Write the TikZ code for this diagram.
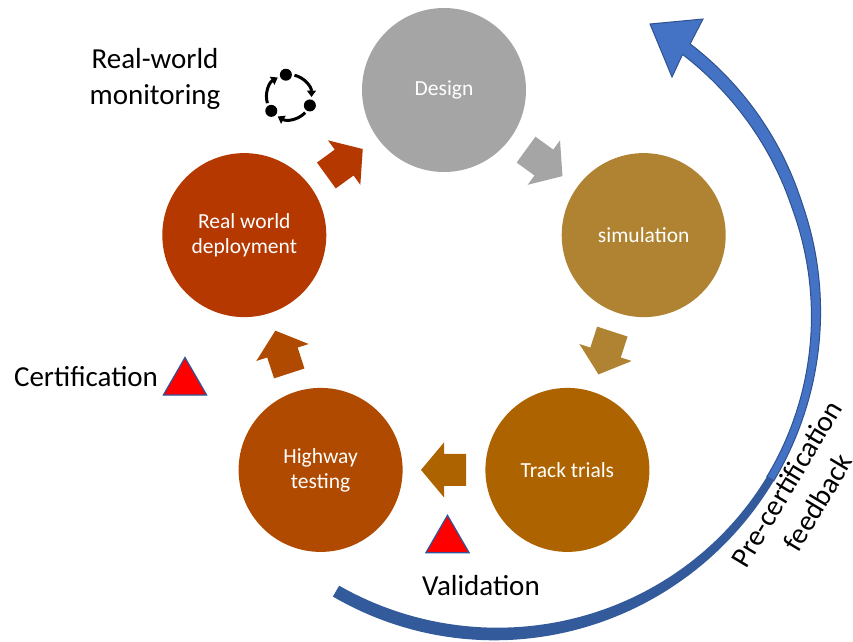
\documentclass[tikz,border=0pt]{standalone}
\usepackage{fontspec}
\setmainfont{Carlito}
\usetikzlibrary{shapes.geometric,arrows.meta,calc}
\definecolor{cDesign}{HTML}{A5A5A5}
\definecolor{cSim}{HTML}{AF8331}
\definecolor{cTrack}{HTML}{AD6400}
\definecolor{cHwy}{HTML}{B04A00}
\definecolor{cDep}{HTML}{B43800}
\definecolor{bigLight}{HTML}{4472C4}
\definecolor{bigEdge}{HTML}{2F528F}
\definecolor{bigDark}{HTML}{335A9A}
\definecolor{triEdge}{HTML}{2F5597}
\tikzset{blockarrow/.pic={\fill[pic actions] (-22,-16) -- (0,-16) -- (0,-27.5) -- (23,0) -- (0,27.5) -- (0,16) -- (-22,16) -- cycle;}}
\begin{document}
\begin{tikzpicture}[x=1pt,y=1pt,
  declare function={bw(\t)=10.5-2.5*cos((\t+25)*2.264); br(\t)=320+max(0,\t-20)*0.18;},
  stage/.style={circle, minimum size=164pt, inner sep=0pt, text=white, align=center, font=\fontsize{21.5}{25}\selectfont},
  txtlabel/.style={align=center, font=\fontsize{29}{36}\selectfont, text=black},
  warn/.style={regular polygon, regular polygon sides=3, minimum size=50pt, inner sep=0pt, fill=red, draw=triEdge, line width=1.2pt},
  icondot/.style={circle, fill=black, minimum size=12pt, inner sep=0pt},
  cyc/.style={line width=3pt, -{Triangle[length=6.5pt,width=9pt]}}]
\useasboundingbox (0,0) rectangle (853,-641);
% stages
\node[stage, fill=cDesign] (design) at (444,-90) {Design};
\node[stage, fill=cSim] (sim) at (643.7,-235.1) {simulation};
\node[stage, fill=cTrack] (track) at (567.4,-469.9) {Track trials};
\node[stage, fill=cHwy] (hwy) at (320.6,-469.9) {Highway\\testing};
\node[stage, fill=cDep] (dep) at (244.3,-235.1) {Real world\\deployment};
% block arrows
\pic[rotate=-36, fill=cDesign] at ($(design)!0.5!(sim)$) {blockarrow};
\pic[rotate=-108, fill=cSim] at ($(sim)!0.5!(track)$) {blockarrow};
\pic[rotate=180, fill=cTrack] at ($(track)!0.5!(hwy)$) {blockarrow};
\pic[rotate=108, fill=cHwy] at ($(hwy)!0.5!(dep)$) {blockarrow};
\pic[rotate=36, fill=cDep] at ($(dep)!0.5!(design)$) {blockarrow};
% big feedback arrow: lower (darker) part
\fill[bigDark]
  plot[domain=-120:-31, samples=60] ({496+(br(\x)+bw(\x)/2)*cos(\x)}, {-314+(br(\x)+bw(\x)/2)*sin(\x)})
  -- plot[domain=-31:-120, samples=60] ({496+(br(\x)-bw(\x)/2)*cos(\x)}, {-314+(br(\x)-bw(\x)/2)*sin(\x)}) -- cycle;
% upper (lighter) part with head
\filldraw[fill=bigLight, draw=bigEdge, line width=1pt, line join=miter]
  plot[domain=-31:54.3, samples=60] ({496+(br(\x)+bw(\x)/2)*cos(\x)}, {-314+(br(\x)+bw(\x)/2)*sin(\x)})
  -- (703,-19) -- (650,-24) -- (672,-77) --
  plot[domain=54.3:-31, samples=60] ({496+(br(\x)-bw(\x)/2)*cos(\x)}, {-314+(br(\x)-bw(\x)/2)*sin(\x)}) -- cycle;
% labels
\node[txtlabel] (mon) at (155,-79) {Real-world\\monitoring};
\node[txtlabel] (cert) at (86,-377) {Certification};
\node[txtlabel] (val) at (481,-586) {Validation};
\node[txtlabel, rotate=59] (fb) at (802,-493) {Pre-certification\\feedback};
% warning triangles
\node[warn] (t1) at (185,-382.5) {};
\node[warn] (t2) at (447.5,-540.3) {};
% monitoring icon
\coordinate (ic) at (289,-97);
\node[icondot] (d1) at ([shift={(98:22.5)}]ic) {};
\node[icondot] (d2) at ([shift={(-22:22.5)}]ic) {};
\node[icondot] (d3) at ([shift={(218:22.5)}]ic) {};
\draw[cyc] ([shift={(76:22.5)}]ic) arc[start angle=76, end angle=0, radius=22.5];
\draw[cyc] ([shift={(-44:22.5)}]ic) arc[start angle=-44, end angle=-120, radius=22.5];
\draw[cyc] ([shift={(196:22.5)}]ic) arc[start angle=196, end angle=120, radius=22.5];
\end{tikzpicture}
\end{document}
